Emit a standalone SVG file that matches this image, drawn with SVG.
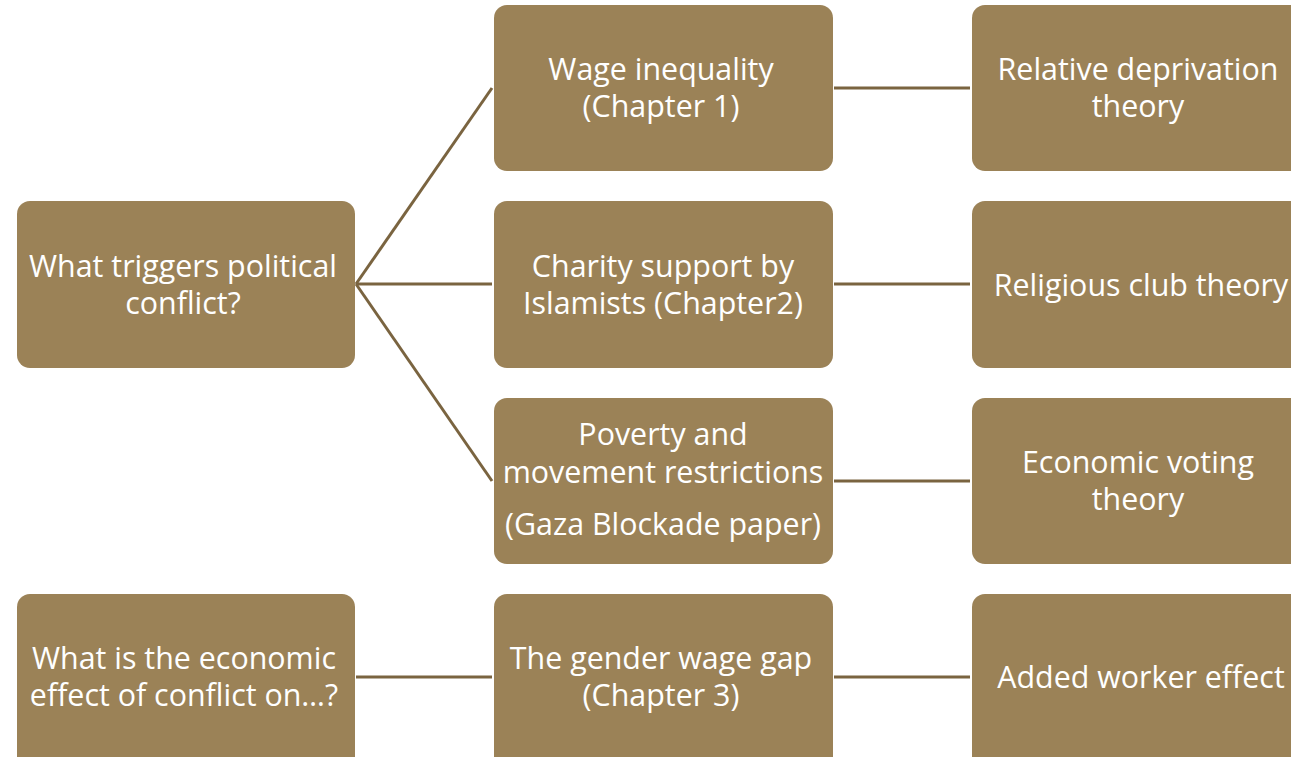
<svg xmlns="http://www.w3.org/2000/svg" width="1291" height="757" viewBox="0 0 1291 757">
<style>
.box{fill:#9b8257;}
.t{font-family:"Open Sans","Liberation Sans",sans-serif;font-size:30.4px;fill:#ffffff;text-anchor:middle;}
.c{stroke:#7a6440;stroke-width:3;fill:none;}
</style>
<rect width="1291" height="757" fill="#ffffff"/>
<g id="connectors">
<line class="c" x1="356" y1="284" x2="492" y2="88"/>
<line class="c" x1="356" y1="284" x2="492" y2="284"/>
<line class="c" x1="356" y1="284" x2="492" y2="481"/>
<line class="c" x1="356" y1="677" x2="492" y2="677"/>
<line class="c" x1="834" y1="88" x2="970" y2="88"/>
<line class="c" x1="834" y1="284" x2="970" y2="284"/>
<line class="c" x1="834" y1="481" x2="970" y2="481"/>
<line class="c" x1="834" y1="677" x2="970" y2="677"/>
</g>
<g id="q1"><rect class="box" x="17" y="201" width="338" height="167" rx="13"/>
<text class="t" x="183" y="277">What triggers political</text><text class="t" x="183" y="314">conflict?</text></g>
<g id="q2"><rect class="box" x="17" y="594" width="338" height="175" rx="13"/>
<text class="t" x="184" y="669">What is the economic</text><text class="t" x="184" y="706">effect of conflict on…?</text></g>
<g id="m1"><rect class="box" x="494" y="5" width="339" height="166" rx="13"/>
<text class="t" x="661" y="80">Wage inequality</text><text class="t" x="661" y="117">(Chapter 1)</text></g>
<g id="m2"><rect class="box" x="494" y="201" width="339" height="167" rx="13"/>
<text class="t" x="663" y="277">Charity support by</text><text class="t" x="663" y="314">Islamists (Chapter2)</text></g>
<g id="m3"><rect class="box" x="494" y="398" width="339" height="166" rx="13"/>
<text class="t" x="663" y="445">Poverty and</text><text class="t" x="663" y="483">movement restrictions</text><text class="t" x="663" y="535">(Gaza Blockade paper)</text></g>
<g id="m4"><rect class="box" x="494" y="594" width="339" height="175" rx="13"/>
<text class="t" x="661" y="669">The gender wage gap</text><text class="t" x="661" y="706">(Chapter 3)</text></g>
<g id="r1"><rect class="box" x="972" y="5" width="340" height="166" rx="13"/>
<text class="t" x="1138" y="80">Relative deprivation</text><text class="t" x="1138" y="117">theory</text></g>
<g id="r2"><rect class="box" x="972" y="201" width="340" height="167" rx="13"/>
<text class="t" x="1141" y="296">Religious club theory</text></g>
<g id="r3"><rect class="box" x="972" y="398" width="340" height="166" rx="13"/>
<text class="t" x="1138" y="473">Economic voting</text><text class="t" x="1138" y="510">theory</text></g>
<g id="r4"><rect class="box" x="972" y="594" width="340" height="175" rx="13"/>
<text class="t" x="1141" y="688">Added worker effect</text></g>
</svg>
